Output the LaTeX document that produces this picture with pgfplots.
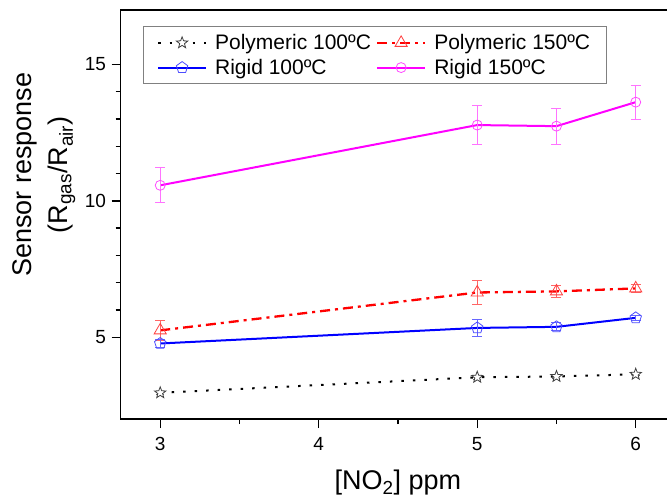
\documentclass[border=0pt]{standalone}
\usepackage{pgfplots}
\pgfplotsset{compat=1.18}
\usepackage{fontspec}
\setmainfont{Liberation Sans}
\usetikzlibrary{plotmarks}
\pgfdeclareplotmark{ostar}{%
  \pgfpathmoveto{\pgfpointpolar{90}{\pgfplotmarksize}}%
  \pgfpathlineto{\pgfpointpolar{126}{0.42\pgfplotmarksize}}%
  \pgfpathlineto{\pgfpointpolar{162}{\pgfplotmarksize}}%
  \pgfpathlineto{\pgfpointpolar{198}{0.42\pgfplotmarksize}}%
  \pgfpathlineto{\pgfpointpolar{234}{\pgfplotmarksize}}%
  \pgfpathlineto{\pgfpointpolar{270}{0.42\pgfplotmarksize}}%
  \pgfpathlineto{\pgfpointpolar{306}{\pgfplotmarksize}}%
  \pgfpathlineto{\pgfpointpolar{342}{0.42\pgfplotmarksize}}%
  \pgfpathlineto{\pgfpointpolar{18}{\pgfplotmarksize}}%
  \pgfpathlineto{\pgfpointpolar{54}{0.42\pgfplotmarksize}}%
  \pgfpathclose
  \pgfusepathqfillstroke
}
\definecolor{myred}{RGB}{255,0,0}
\definecolor{mymag}{RGB}{255,0,255}
\definecolor{myblue}{RGB}{0,0,255}
\begin{document}
\begin{tikzpicture}
\begin{axis}[
  scale only axis,
  width=554.75pt, height=409pt,
  xmin=2.75, xmax=6.25, ymin=2, ymax=17,
  xtick={3,4,5,6}, minor x tick num=1,
  ytick={5,10,15}, minor y tick num=4,
  tick pos=left, tick align=outside,
  major tick length=9pt, minor tick length=5pt,
  every tick/.style={black, line width=1.3pt},
  axis line style={line width=1.5pt},
  /pgf/number format/assume math mode=true,
  ticklabel style={font=\fontsize{19}{22}\selectfont},
  xticklabel style={yshift=-6pt},
  yticklabel style={xshift=-2pt},
  label style={font=\fontsize{27}{36}\selectfont},
  xlabel={[NO\textsubscript{2}] ppm},
  xlabel style={at={(axis description cs:0.5,0)}, anchor=center, yshift=-64pt},
  ylabel={Sensor response\\(R\textsubscript{gas}/R\textsubscript{air})},
  ylabel style={at={(axis description cs:-0.138,0.597)}, anchor=center, align=center},
  legend columns=2,
  legend cell align=left,
  legend style={at={(axis description cs:0,1)}, anchor=north west, xshift=22pt, yshift=-16pt,
    draw=gray, line width=1pt, font=\fontsize{21}{25}\selectfont,
    /tikz/every even column/.append style={column sep=3pt},
    inner xsep=14pt, inner ysep=6pt, row sep=4pt},
  legend image code/.code={\path (54pt,0pt); \draw[#1] (0pt,0pt) -- (48pt,0pt); \draw[#1, solid] plot coordinates {(24pt,0pt)};},
]
\addplot[black, line width=2pt, dash pattern=on 2.5pt off 9pt, mark=ostar, mark size=6pt,
  mark options={solid, fill=white, line width=0.8pt, draw=black!75},
  error bars/.cd, y dir=both, y explicit,
  error bar style={black!60, line width=0.8pt, solid},
  error mark options={rotate=90, mark size=4pt, black!60, line width=0.8pt}]
  coordinates {(3,2.96) +- (0,0.05) (5,3.53) +- (0,0.06) (5.5,3.56) +- (0,0.06) (6,3.64) +- (0,0.05)};
\addlegendentry{Polymeric 100ºC}
\addplot[myred, line width=2.3pt, dash pattern=on 10pt off 5pt on 3pt off 5pt, mark=triangle, mark size=7pt,
  mark options={solid, fill=white, line width=0.8pt, draw=myred!75},
  error bars/.cd, y dir=both, y explicit,
  error bar style={myred!60, line width=0.9pt, solid},
  error mark options={rotate=90, mark size=5pt, myred!60, line width=0.9pt}]
  coordinates {(3,5.25) +- (0,0.38) (5,6.64) +- (0,0.45) (5.5,6.68) +- (0,0.22) (6,6.79) +- (0,0.15)};
\addlegendentry{Polymeric 150ºC}
\addplot[myblue, line width=2pt, mark=pentagon, mark size=6pt,
  mark options={solid, fill=white, line width=0.8pt, draw=myblue!70},
  error bars/.cd, y dir=both, y explicit,
  error bar style={myblue!60, line width=0.9pt, solid},
  error mark options={rotate=90, mark size=5pt, myblue!60, line width=0.9pt}]
  coordinates {(3,4.77) +- (0,0.15) (5,5.34) +- (0,0.32) (5.5,5.38) +- (0,0.15) (6,5.71) +- (0,0.08)};
\addlegendentry{Rigid 100ºC}
\addplot[mymag, line width=2pt, mark=o, mark size=5pt,
  mark options={solid, fill=white, line width=0.8pt, draw=mymag!70},
  error bars/.cd, y dir=both, y explicit,
  error bar style={mymag!55, line width=0.9pt, solid},
  error mark options={rotate=90, mark size=5pt, mymag!55, line width=0.9pt}]
  coordinates {(3,10.57) +- (0,0.64) (5,12.78) +- (0,0.72) (5.5,12.74) +- (0,0.66) (6,13.62) +- (0,0.62)};
\addlegendentry{Rigid 150ºC}
\end{axis}
\pgfresetboundingbox
\useasboundingbox (-120.6pt,-80pt) rectangle (546.4pt,419pt);
\end{tikzpicture}
\end{document}
